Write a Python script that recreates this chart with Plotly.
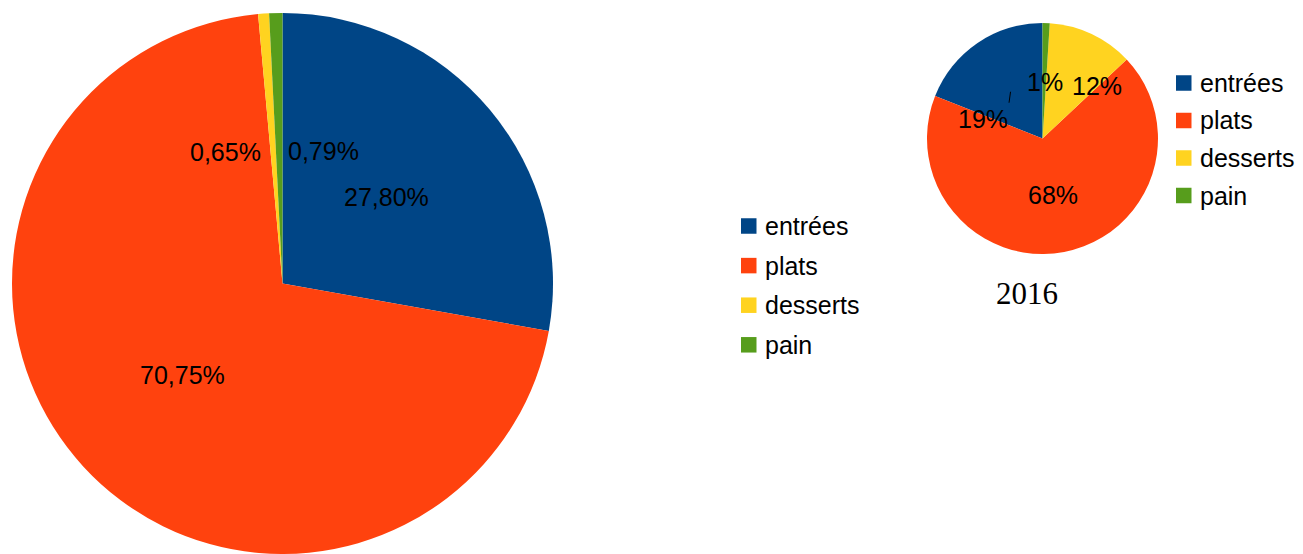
import math
import plotly.graph_objects as go

# Data
categories = ["entrées", "plats", "desserts", "pain"]
colors = ["#004586", "#ff420e", "#ffd320", "#579d1c"]
share_total = [27.80, 70.75, 0.65, 0.79]
share_2016 = [19, 68, 12, 1]
title_2016 = "2016"

W, H = 1303, 554
SANS = "Liberation Sans, Arial, sans-serif"
SERIF = "Liberation Serif, Times New Roman, serif"
LABEL_SIZE = 25


def fmt_total(v):
    return f"{v:.2f}".replace(".", ",") + "%"


def fmt_2016(v):
    return f"{v:.0f}%"


def px(x):
    return x / W


def py(y):
    return 1 - y / H


def pie_geometry(left, top, right, bottom):
    cx, cy = (left + right) / 2, (top + bottom) / 2
    r = min(right - left, bottom - top) / 2
    return cx, cy, r


def slice_anchor(values, i, cx, cy, r, clockwise, frac=0.5):
    """Pixel point at the angular middle of slice i, at frac * radius."""
    total = sum(values)
    mid = (sum(values[:i]) + values[i] / 2) / total * 2 * math.pi
    sx = math.sin(mid) if clockwise else -math.sin(mid)
    return cx + frac * r * sx, cy - frac * r * math.cos(mid)


# Pie boxes in pixels (left, top, right, bottom)
big_box = (10, 13, 555, 554)
small_box = (927, 23, 1158, 254)

fig = go.Figure()

fig.add_trace(go.Pie(
    labels=categories, values=share_total, sort=False,
    direction="clockwise", rotation=0,
    marker=dict(colors=colors, line=dict(width=0)),
    textinfo="none", hoverinfo="label+percent", showlegend=False,
    domain=dict(x=[px(big_box[0]), px(big_box[2])],
                y=[py(big_box[3]), py(big_box[1])]),
))

# plotly ends the first counterclockwise slice at the rotation angle,
# so shift it back to make the first slice start at 12 o'clock
ccw_rotation = -360 * share_2016[0] / sum(share_2016)
fig.add_trace(go.Pie(
    labels=categories, values=share_2016, sort=False,
    direction="counterclockwise", rotation=ccw_rotation,
    marker=dict(colors=colors, line=dict(width=0)),
    textinfo="none", hoverinfo="label+percent", showlegend=False,
    domain=dict(x=[px(small_box[0]), px(small_box[2])],
                y=[py(small_box[3]), py(small_box[1])]),
))

annotations = []
shapes = []

# Value labels on the large pie
bcx, bcy, br = pie_geometry(*big_box)
big_label_opts = {
    2: dict(xanchor="right", xshift=-10, yshift=-3),
    3: dict(xanchor="left", xshift=7, yshift=-3),
}
for i, v in enumerate(share_total):
    x, y = slice_anchor(share_total, i, bcx, bcy, br, clockwise=True)
    opts = dict(xanchor="center", xshift=0, yshift=0)
    opts.update(big_label_opts.get(i, {}))
    annotations.append(dict(
        x=px(x), y=py(y), xref="paper", yref="paper", text=fmt_total(v),
        showarrow=False, yanchor="middle",
        font=dict(family=SANS, size=LABEL_SIZE, color="black"), **opts))

# Value labels on the small pie
scx, scy, sr = pie_geometry(*small_box)
small_label_shift = {0: (-27, -28), 2: (30, 0), 3: (1, -1)}
for i, v in enumerate(share_2016):
    x, y = slice_anchor(share_2016, i, scx, scy, sr, clockwise=False)
    dx, dy = small_label_shift.get(i, (0, 0))
    annotations.append(dict(
        x=px(x), y=py(y), xref="paper", yref="paper", text=fmt_2016(v),
        showarrow=False, xanchor="center", yanchor="middle",
        xshift=dx, yshift=dy,
        font=dict(family=SANS, size=LABEL_SIZE, color="black")))
    if i == 0:
        # short leader line from the slice toward its displaced label
        shapes.append(dict(type="line", xref="paper", yref="paper",
                           x0=px(x + 0.5), y0=py(y + 1),
                           x1=px(x - 1), y1=py(y + 12),
                           line=dict(color="black", width=1)))

# Caption under the small pie
annotations.append(dict(
    x=px(1027), y=py(293), xref="paper", yref="paper", text=title_2016,
    showarrow=False, xanchor="center", yanchor="middle",
    font=dict(family=SERIF, size=31, color="black")))


def add_legend(sq_left, first_center, step, sq_size, text_left):
    for k, (name, col) in enumerate(zip(categories, colors)):
        c = first_center + k * step
        shapes.append(dict(type="rect", xref="paper", yref="paper",
                           x0=px(sq_left), x1=px(sq_left + sq_size),
                           y0=py(c + sq_size / 2), y1=py(c - sq_size / 2),
                           fillcolor=col, line=dict(width=0)))
        annotations.append(dict(
            x=px(text_left), y=py(c), xref="paper", yref="paper", text=name,
            showarrow=False, xanchor="left", yanchor="middle",
            font=dict(family=SANS, size=LABEL_SIZE, color="black")))


add_legend(741, 226, 39.6, 15.5, 763)
add_legend(1176, 83, 37.5, 15.5, 1198)

fig.update_layout(
    width=W, height=H,
    margin=dict(l=0, r=0, t=0, b=0),
    paper_bgcolor="white", plot_bgcolor="white",
    annotations=annotations, shapes=shapes,
)

fig.write_html("out.html")
